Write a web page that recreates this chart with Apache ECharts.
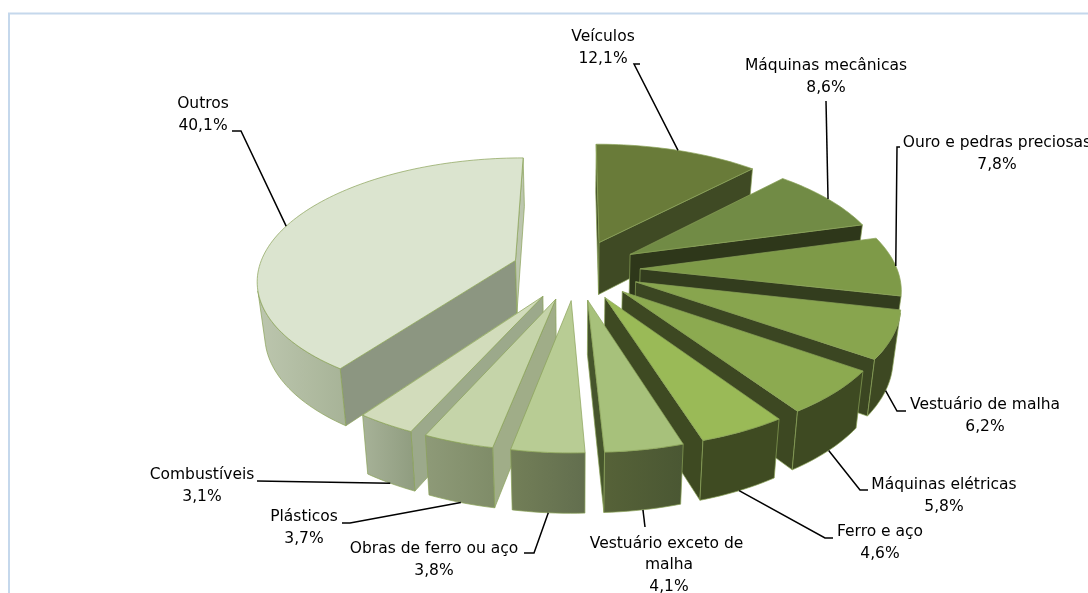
<!DOCTYPE html>
<html>
<head>
<meta charset="utf-8">
<script src="https://cdn.jsdelivr.net/npm/echarts@6/dist/echarts.min.js"></script>
<style>
  html, body { margin: 0; padding: 0; background: #fff; }
  #main { width: 1088px; height: 593px; }
</style>
</head>
<body>
<div id="main"></div>
<script>
const categories = ['Veículos', 'Máquinas mecânicas', 'Ouro e pedras preciosas', 'Vestuário de malha', 'Máquinas elétricas', 'Ferro e aço', 'Vestuário exceto de malha', 'Obras de ferro ou aço', 'Plásticos', 'Combustíveis', 'Outros'];
const shares = [12.1, 8.6, 7.8, 6.2, 5.8, 4.6, 4.1, 3.8, 3.7, 3.1, 40.1];

// face colours, one entry per slice
const topColors = ['#697b39', '#718b45', '#7e9a48', '#88a54e', '#8caa50', '#9aba57', '#a7c17b', '#b8cc94', '#c5d4a9', '#d2dcbb', '#dbe4cf'];
const startWallColors = ['#3f4a24', '#3a4520', '#333d1e', '#3b4622', '#3d4822', '#3e4a22', '#46552c', '#7f8c68', '#a0ad88', '#9ca98b', '#8c9681'];
const endWallColors = ['#3f4a24', '#2e371a', '#333d1e', '#3b4622', '#3d4822', '#3e4a22', '#46552c', '#7f8c68', '#a0ad88', '#9ca98b', '#bcc6ae'];
const outerLeft = ['#3f4a24', '#3a4520', '#333d1e', '#3d4822', '#3e4a22', '#3f4b22', '#566238', '#737f58', '#8e9a78', '#a7b298', '#bcc6ae'];
const outerRight = ['#3f4a24', '#3a4520', '#333d1e', '#3d4822', '#3e4a22', '#3f4b22', '#4a5733', '#626e4e', '#7f8c68', '#8f9c7f', '#a7b397'];

// label centre and the bend of each leader line
const labelLayout = [
  {x: 603, y: 48, bend: [[634, 64], [640, 64]]},
  {x: 826, y: 77, bend: [[826, 101]]},
  {x: 997, y: 154, bend: [[897, 147], [900, 147]]},
  {x: 985, y: 416, bend: [[897, 411], [906, 411]]},
  {x: 944, y: 496, bend: [[860, 490], [868, 490]]},
  {x: 880, y: 543, bend: [[825, 538], [833, 538]]},
  {x: 669, y: 565, bend: [[645, 527]], width: 175},
  {x: 434, y: 560, bend: [[534, 553], [524, 553]]},
  {x: 304, y: 528, bend: [[350, 523], [342, 523]]},
  {x: 202, y: 486, bend: [[257, 481]]},
  {x: 203, y: 115, bend: [[241, 131], [232, 131]]}
];

// projection of the tilted pie
const cx = 576, cy = 269.5;
const scaleX = 257, scaleY = 120, persp = 0.146;
const explode = 0.25, depth = 53, bottomShrink = 0.976;

function topPoint(wx, wy) {
  const s = 1 / (1 + persp * wy);
  return [cx + scaleX * wx * s, cy - scaleY * wy * s];
}
function bottomPoint(wx, wy) {
  const s = 1 / (1 + persp * wy);
  const p = topPoint(wx, wy);
  return [cx + (p[0] - cx) * bottomShrink, cy + (p[1] - cy) * bottomShrink + depth * s];
}

const total = shares.reduce((a, b) => a + b, 0);
let running = 0;
const slices = shares.map(function (v, i) {
  const a0 = running / total * 2 * Math.PI;
  running += v;
  const a1 = running / total * 2 * Math.PI;
  const mid = (a0 + a1) / 2;
  return {i: i, a0: a0, a1: a1, mid: mid, ox: explode * Math.sin(mid), oy: explode * Math.cos(mid)};
});

function world(s, a) {
  return [s.ox + Math.sin(a), s.oy + Math.cos(a)];
}
// true when the wall under edge p->q looks at the viewer (edges run clockwise on screen)
function facing(p, q, pb) {
  return (q[0] - p[0]) * (pb[1] - p[1]) - (q[1] - p[1]) * (pb[0] - p[0]) < 0;
}
function poly(points, fill, stroke) {
  return {
    type: 'polygon',
    shape: {points: points},
    style: {fill: fill, stroke: stroke || '#8aa257', lineWidth: 0.7, lineJoin: 'round'}
  };
}

function renderSlice(params, api) {
  const s = slices[api.value(0)];
  const i = s.i;
  const steps = Math.max(8, Math.round((s.a1 - s.a0) * 40));
  const apexT = topPoint(s.ox, s.oy);
  const apexB = bottomPoint(s.ox, s.oy);
  const arcT = [], arcB = [];
  for (let k = 0; k <= steps; k++) {
    const w = world(s, s.a0 + (s.a1 - s.a0) * k / steps);
    arcT.push(topPoint(w[0], w[1]));
    arcB.push(bottomPoint(w[0], w[1]));
  }
  const children = [];
  // radial walls
  const last = arcT.length - 1;
  if (facing(apexT, arcT[0], apexB)) {
    children.push(poly([apexT, arcT[0], arcB[0], apexB], startWallColors[i]));
  }
  if (facing(arcT[last], apexT, arcB[last])) {
    children.push(poly([arcT[last], apexT, apexB, arcB[last]], endWallColors[i]));
  }
  // outer wall, only the part turned to the viewer
  const upper = [], lower = [];
  for (let k = 0; k < last; k++) {
    if (facing(arcT[k], arcT[k + 1], arcB[k])) {
      if (!upper.length) {
        upper.push(arcT[k]);
        lower.push(arcB[k]);
      }
      upper.push(arcT[k + 1]);
      lower.push(arcB[k + 1]);
    }
  }
  if (upper.length) {
    const fill = new echarts.graphic.LinearGradient(0, 0, 1, 0, [
      {offset: 0, color: outerLeft[i]},
      {offset: 1, color: outerRight[i]}
    ]);
    children.push(poly(upper.concat(lower.reverse()), fill));
  }
  children.push(poly([apexT].concat(arcT), topColors[i]));
  return {type: 'group', children: children};
}

function leaderStart(s) {
  const w = world(s, s.mid);
  return Math.cos(s.mid) >= 0 ? topPoint(w[0], w[1]) : bottomPoint(w[0], w[1]);
}

function renderLabel(params, api) {
  const i = api.value(0);
  const l = labelLayout[i];
  const text = categories[i] + '\n' + shares[i].toFixed(1).replace('.', ',') + '%';
  return {
    type: 'group',
    children: [
      {
        type: 'polyline',
        shape: {points: [leaderStart(slices[i])].concat(l.bend)},
        style: {fill: null, stroke: '#000', lineWidth: 1.5}
      },
      {
        type: 'text',
        x: l.x,
        y: l.y,
        style: {
          text: text,
          fill: '#000',
          font: '15.5px "DejaVu Sans", sans-serif',
          lineHeight: 21.5,
          align: 'center',
          verticalAlign: 'middle',
          width: l.width,
          overflow: l.width ? 'break' : 'none'
        }
      }
    ]
  };
}

// far slices are painted first
const sliceData = slices.slice().sort(function (a, b) {
  return b.oy - a.oy;
}).map(function (s) {
  return {name: categories[s.i], value: [s.i, shares[s.i]]};
});
const labelData = categories.map(function (c, i) {
  return {name: c, value: [i, shares[i]]};
});

const chart = echarts.init(document.getElementById('main'));
chart.setOption({
  animation: false,
  backgroundColor: '#fff',
  graphic: [{
    type: 'rect',
    shape: {x: 9, y: 13.5, width: 1300, height: 800},
    style: {fill: null, stroke: '#c5d8ec', lineWidth: 2},
    silent: true
  }],
  series: [
    {
      type: 'custom',
      coordinateSystem: 'none',
      renderItem: renderSlice,
      data: sliceData,
      silent: true,
      z: 2
    },
    {
      type: 'custom',
      coordinateSystem: 'none',
      renderItem: renderLabel,
      data: labelData,
      silent: true,
      z: 3
    }
  ]
});
</script>
</body>
</html>
